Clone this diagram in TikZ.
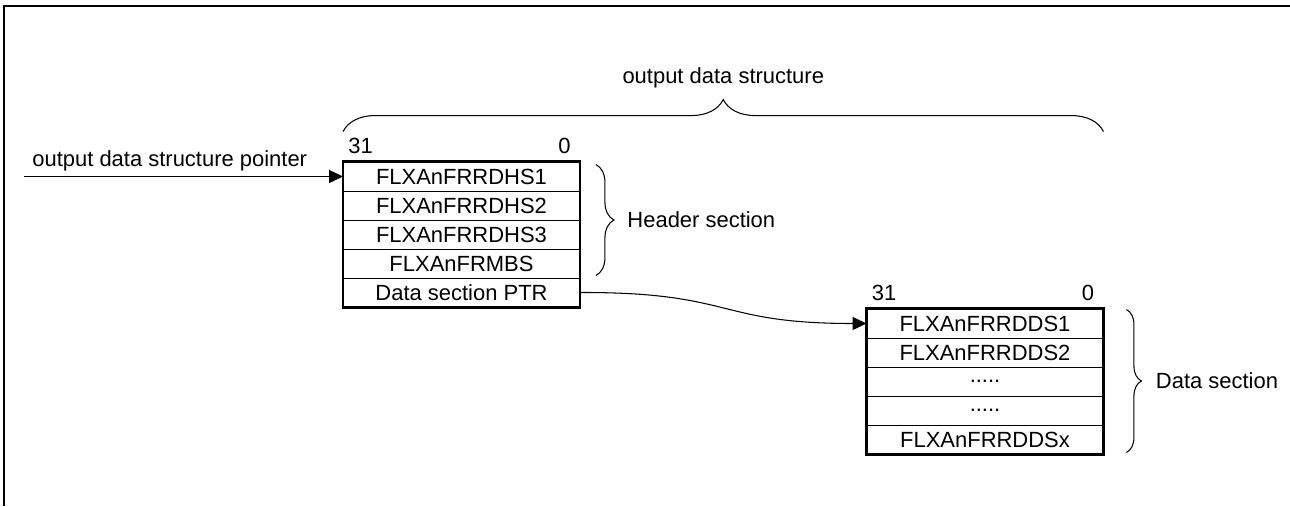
\documentclass[tikz,border=0pt]{standalone}
\usepackage{fontspec}
\setmainfont{Liberation Sans}
\usetikzlibrary{decorations.pathreplacing,arrows.meta,calc,positioning}
\newcommand{\gapdots}{.....}
\tikzset{
  word/.style={
    shape = rectangle,
    draw,
    line width = 0.5pt,
    minimum width = 4.72cm,
    minimum height = 0.58cm,
    inner sep = 0pt
  },
  bitno/.style={
    inner sep = 0pt
  },
  lbl/.style={
    inner sep = 0pt
  },
}
\tikzset{
  block/.style={
    line width = 1.4pt
  },
  frame/.style={
    line width = 1.6pt
  },
  curly/.style={
    decorate,
    decoration={brace,amplitude=#1},
    line width = 0.6pt
  },
  ptr/.style={
    line width = 0.6pt,
    -{Triangle[length=0.28cm,width=0.26cm]}
  },
  every picture/.style = {
    font=\fontsize{12.5}{15}\selectfont
  }
}
\begin{document}
\begin{tikzpicture}
  \useasboundingbox (0,0) rectangle (25.8,-10.12);
  \draw[frame] (25.8,-0.12) -| (0.08,-10.12);
  \foreach \i/\txt in {1/FLXAnFRRDHS1,2/FLXAnFRRDHS2,3/FLXAnFRRDHS3,4/FLXAnFRMBS,5/Data section PTR}{
    \node[word] (h\i) at (9.23,{-2.95-0.58*\i}) {\txt};
  }
  \foreach \i/\txt in {1/FLXAnFRRDDS1,2/FLXAnFRRDDS2,3/\gapdots,4/\gapdots,5/FLXAnFRRDDSx}{
    \node[word] (d\i) at (19.7,{-5.89-0.58*\i}) {\txt};
  }
  \foreach \b in {h,d}{
    \draw[block] (\b1.north west) rectangle (\b5.south east);
    \node[bitno,anchor=south west] (\b msb) at ([shift={(0.1,0.16)}]\b1.north west) {31};
    \node[bitno,anchor=south east] (\b lsb) at ([shift={(-0.18,0.16)}]\b1.north east) {0};
  }
  \coordinate (ptrin) at (0.48,-3.53);
  \draw[ptr] (ptrin) -- (h1.west);
  \node[lbl,anchor=base west] (ptrlbl) at ([shift={(0.16,0.2)}]ptrin) {output data structure pointer};
  \draw[ptr] (h5.east) .. controls (14.7,-5.84) and (14.3,-6.47) .. (d1.west);
  \coordinate (topL) at ([yshift=0.6cm]h1.north west);
  \coordinate (topR) at (topL -| d1.east);
  \draw[curly=0.64cm] (topL) -- (topR);
  \node[lbl] (odslbl) at ($(topL)!0.5!(topR)+(0,1.08)$) {output data structure};
  \draw[curly=0.36cm] ([shift={(0.32,-0.06)}]h1.north east) -- ([shift={(0.32,0.06)}]h4.south east)
    node[lbl,midway,right=0.62cm] (hdrlbl) {Header section};
  \draw[curly=0.3cm] ([shift={(0.46,-0.02)}]d1.north east) -- ([shift={(0.46,0.04)}]d5.south east)
    node[lbl,midway,right=0.58cm] (datlbl) {Data section};
\end{tikzpicture}
\end{document}
